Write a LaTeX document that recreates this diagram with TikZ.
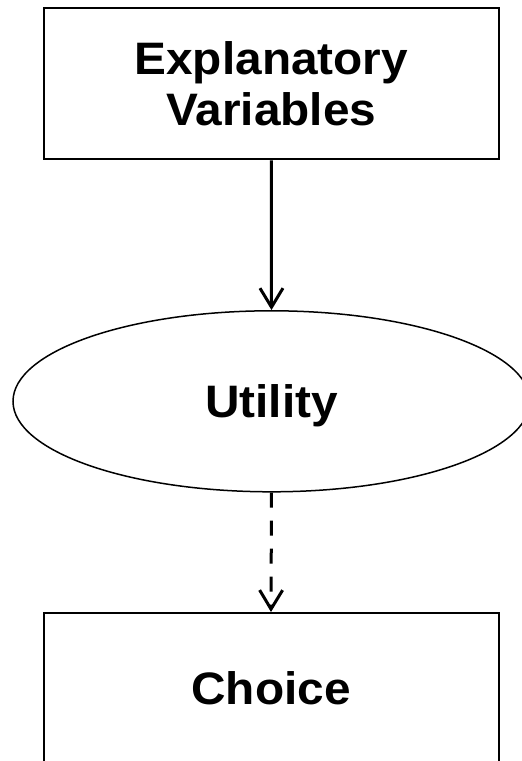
\documentclass[tikz,border=0pt]{standalone}
\usepackage{fontspec}
\setmainfont{Liberation Sans}[FakeStretch=1.05]
\usetikzlibrary{shapes.geometric,arrows.meta}
\tikzset{
  labelfont/.style={font=\fontsize{45.5}{51.7}\selectfont\bfseries},
  boxnode/.style={draw, line width=2pt, minimum width=455pt, minimum height=151pt,
    inner sep=0pt, align=center, labelfont},
  ovalnode/.style={draw, ellipse, line width=1.5pt, minimum width=517pt, minimum height=181pt,
    inner sep=0pt, text depth=0pt, labelfont},
  link/.style={line width=3pt, -{Straight Barb[length=19pt,width=23pt,line width=3pt]}},
  dashlink/.style={link, dash pattern=on 15pt off 13pt}
}
\begin{document}
\begin{tikzpicture}[x=1pt,y=-1pt]
  \useasboundingbox (0,0) rectangle (522,761);
  \node[boxnode] (expl) at (271.3,83.8) {Explanatory\\Variables};
  \node[ovalnode] (util) at (271.5,401.3) {Utility};
  \node[boxnode, text depth=0pt] (choice) at (271,688.5) {Choice};
  \draw[link] (expl.south) -- (util.north);
  \draw[dashlink] (util.south) -- (choice.north);
\end{tikzpicture}
\end{document}
